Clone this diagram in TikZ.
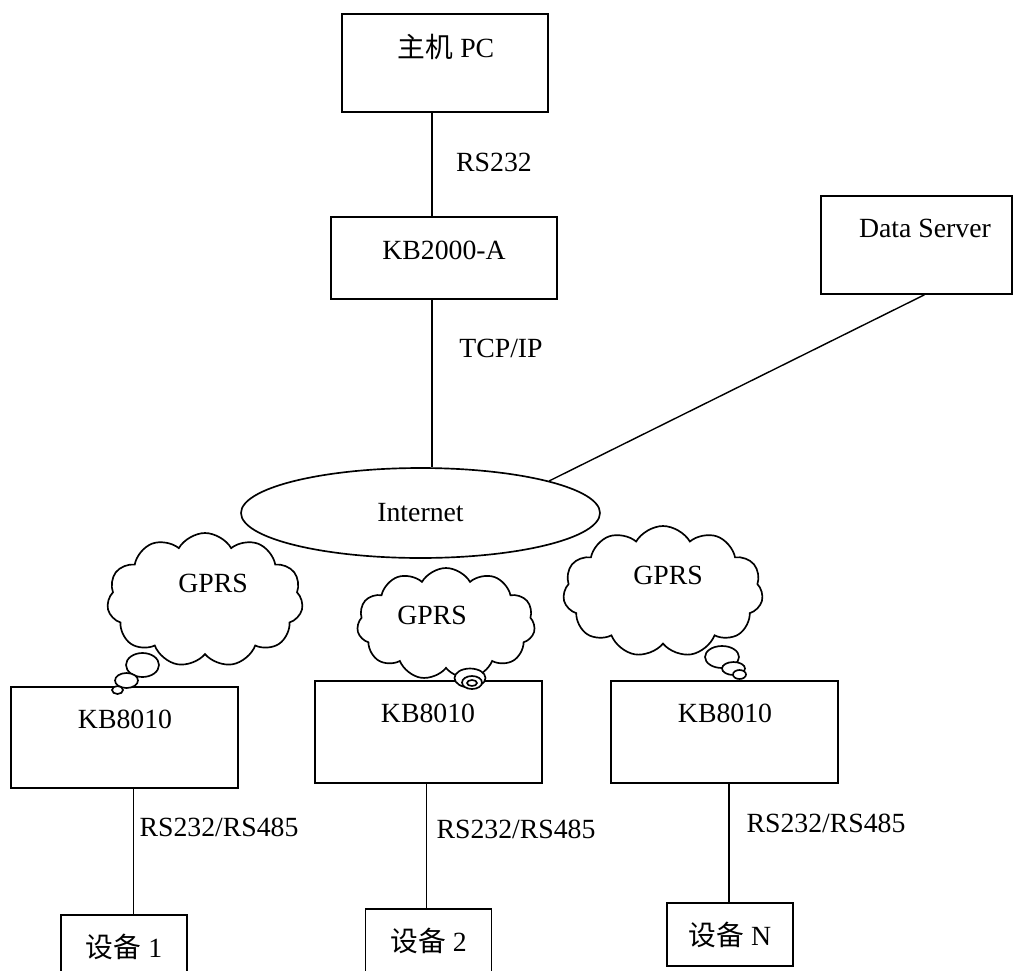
\documentclass[tikz,border=0pt]{standalone}
\usepackage{fontspec}
\setmainfont{Liberation Serif}
\newfontfamily\cjk{Noto Sans CJK SC}
\usetikzlibrary{shapes.geometric,shapes.symbols}
\newcommand\bubble[4]{\draw[puff] (#1,#2) ellipse [x radius=#3*0.02cm, y radius=#4*0.02cm];}
\begin{document}
\begin{tikzpicture}[x=0.02cm,y=-0.02cm,
  every node/.style={font=\fontsize{15.8}{19}\selectfont},
  box/.style={draw,line width=0.95pt,inner sep=0pt},
  unit/.style={box,minimum width=4.54cm,minimum height=2.03cm},
  device/.style={box,fill=white,minimum width=2.52cm,minimum height=1.26cm},
  gprs/.style={cloud,draw,fill=white,line width=0.95pt,cloud puffs=11,cloud puff arc=120,inner sep=0pt},
  puff/.style={draw,fill=white,line width=0.95pt},
  wire/.style={draw,line width=0.8pt}]
\useasboundingbox (0,0) rectangle (1017,970);
\node[ellipse,draw,line width=0.95pt,minimum width=7.18cm,minimum height=1.8cm] (inet) at (420.5,513) {Internet};
\node[box,minimum width=4.12cm,minimum height=1.96cm] (pc) at (445,63) {};
\node (pctext) at (446,47) {{\cjk 主机} PC};
\node[box,minimum width=4.52cm,minimum height=1.64cm] (gw) at (444,258) {};
\node (gwtext) at (444,250) {KB2000-A};
\node[box,minimum width=3.82cm,minimum height=1.96cm] (srv) at (916.5,245) {};
\node (srvtext) at (925,228) {Data Server};
\node[gprs,minimum width=3.92cm,minimum height=2.68cm] (cloudA) at (205,600) {};
\node[gprs,minimum width=3.56cm,minimum height=2.24cm] (cloudB) at (446,624) {};
\node[gprs,minimum width=4.0cm,minimum height=2.62cm] (cloudC) at (663,591.5) {};
\node (gprsA) at (213,583) {GPRS};
\node (gprsB) at (432,615) {GPRS};
\node (gprsC) at (668,575) {GPRS};
\node[unit] (kbA) at (124.5,737.5) {};
\node[unit] (kbB) at (428.5,732) {};
\node[unit] (kbC) at (724.5,732) {};
\node (kbAtext) at (125,719) {KB8010};
\node (kbBtext) at (428,713) {KB8010};
\node (kbCtext) at (725,713) {KB8010};
\bubble{142.5}{665}{16.5}{12}
\bubble{126.5}{680.5}{11.5}{7.5}
\bubble{117.5}{690}{5.5}{4}
\bubble{470}{678}{15.5}{9.5}
\bubble{472}{682.5}{10}{6.5}
\bubble{472}{683}{5}{3}
\bubble{722}{657}{17}{11}
\bubble{733.5}{668.5}{11.5}{6.5}
\bubble{739.5}{674.5}{6.5}{4.5}
\node[device] (devA) at (124,946.5) {{\cjk 设备} 1};
\node[device] (devB) at (428.5,940.5) {{\cjk 设备} 2};
\node[device] (devC) at (730,934.5) {{\cjk 设备} N};
\draw[wire] (gw.106) -- (gw.106 |- pc.south);
\draw[wire] (gw.254) -- (gw.254 |- inet.north);
\draw[wire] (srv.279) -- (inet.14);
\draw[wire] (kbA.280) -- (kbA.280 |- devA.north);
\draw[wire] (kbB.268) -- (kbB.268 |- devB.north);
\draw[wire] (kbC.275) -- (kbC.275 |- devC.north);
\node (rspc) at (494,162) {RS232};
\node (tcp) at (501,348) {TCP/IP};
\node (rsA) at (219,827) {RS232/RS485};
\node (rsB) at (516,829) {RS232/RS485};
\node (rsC) at (826,823) {RS232/RS485};
\end{tikzpicture}
\end{document}
